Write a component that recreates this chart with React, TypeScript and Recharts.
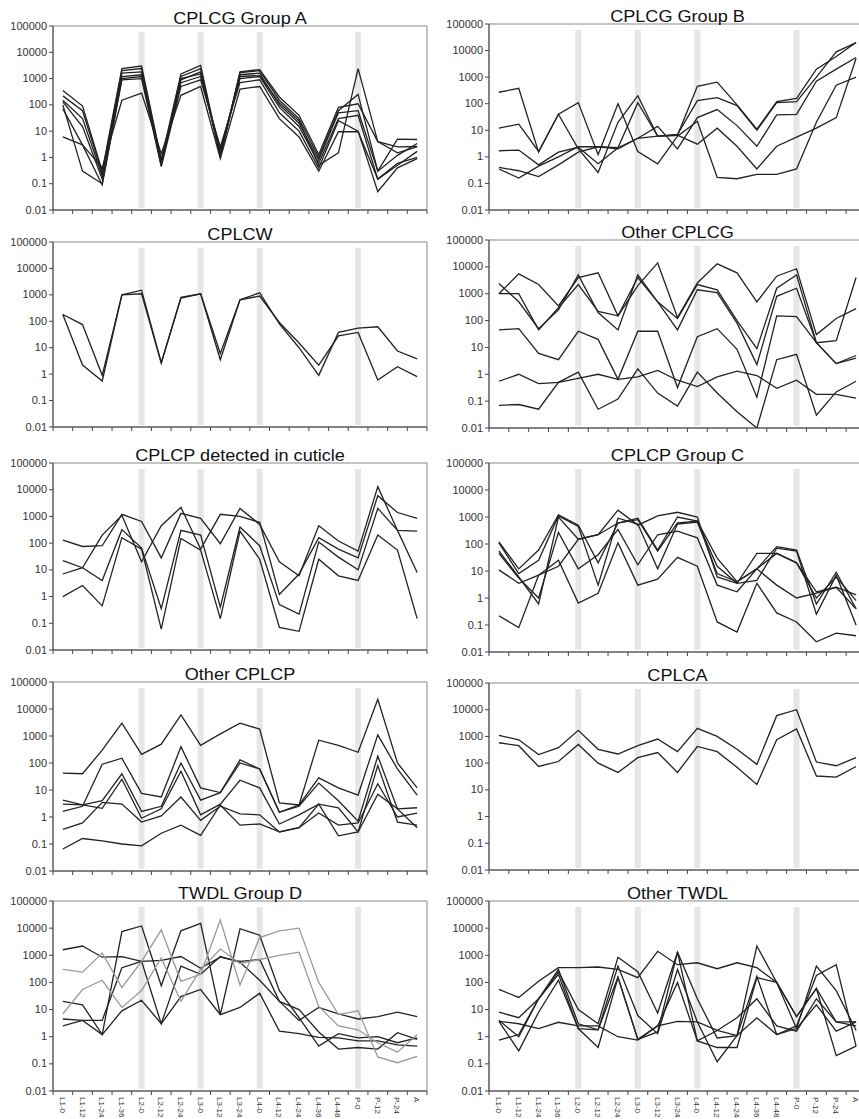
import React from 'react';
import { LineChart, Line, XAxis, YAxis, ReferenceLine, ReferenceArea } from 'recharts';

const CATEGORIES = ['L1-0', 'L1-12', 'L1-24', 'L1-36', 'L2-0', 'L2-12', 'L2-24', 'L3-0', 'L3-12', 'L3-24', 'L4-0', 'L4-12', 'L4-24', 'L4-36', 'L4-48', 'P-0', 'P-12', 'P-24', 'A'];
const STAGE_STARTS = ['L2-0', 'L3-0', 'L4-0', 'P-0'];
const Y_TICKS = [0.01, 0.1, 1, 10, 100, 1000, 10000, 100000];

const CPLCG_A = [
  [350, 90, 0.3, 2400, 3000, 0.8, 1500, 3200, 1.2, 1800, 2200, 200, 40, 1.3, 80, 110, 4, 2.5, 2.6],
  [220, 60, 0.25, 2000, 2400, 0.7, 1200, 2400, 1.0, 1700, 2000, 150, 30, 1.0, 60, 250, 0.3, 5, 4.8],
  [150, 30, 0.2, 1600, 1800, 0.6, 900, 1800, 1.5, 1400, 1600, 100, 20, 0.8, 50, 60, 0.3, 1.2, 3.4],
  [130, 15, 0.15, 1200, 1400, 0.5, 700, 1200, 2.0, 1000, 1200, 80, 15, 0.6, 30, 40, 0.15, 0.5, 1.7],
  [70, 3, 0.09, 900, 1000, 0.45, 500, 900, 2.5, 700, 900, 50, 10, 0.4, 25, 10, 0.05, 0.4, 0.9],
  [6, 3, 0.4, 150, 280, 1.4, 230, 500, 0.9, 400, 500, 30, 6, 0.3, 9.5, 9.5, 0.15, 0.6, 1],
  [100, 0.3, 0.1, 1000, 1200, 0.6, 1000, 1500, 1.2, 1200, 1300, 120, 25, 0.5, 1.5, 2400, 4, 1.5, 2.5],
];

const CPLCG_B = [
  [270, 380, 1.5, 40, 110, 1.2, 100, 1.6, 0.55, 6, 22, 0.17, 0.15, 0.22, 0.22, 0.35, 20, 500, 1000],
  [12, 17, 1.6, 40, 2.0, 0.26, 20, 200, 6, 7, 130, 170, 85, 10, 110, 120, 1000, 9000, 20000],
  [1.7, 1.8, 0.5, 1.5, 2.3, 0.55, 2.2, 110, 6, 6.5, 450, 650, 90, 11, 120, 160, 2000, 6000, 20000],
  [0.35, 0.16, 0.45, 1.0, 2.4, 2.4, 2.2, 5, 14, 2, 30, 60, 15, 2.5, 38, 40, 700, 2000, 5500],
  [0.4, 0.3, 0.18, 0.5, 1.5, 2.4, 2.0, 5, 6, 6.5, 3, 12, 2.5, 0.35, 2.5, 5.5, 12, 30, 5000],
];

const CPLCW = [
  [180, 75, 0.9, 1000, 1100, 2.6, 750, 1100, 3.5, 650, 1200, 80, 10, 0.9, 38, 55, 62, 7.5, 3.8],
  [180, 2.2, 0.55, 1000, 1500, 2.7, 800, 1100, 6, 650, 900, 90, 15, 2.2, 28, 38, 0.6, 1.9, 0.8],
];

const OTHER_CPLCG = [
  [1000, 5500, 2200, 350, 4000, 6000, 150, 2000, 14000, 130, 2500, 13000, 6000, 500, 4500, 8500, 30, 120, 280],
  [2400, 500, 50, 250, 5000, 200, 45, 5000, 500, 120, 2200, 1400, 100, 9, 1600, 5000, 15, 18, 4000],
  [1000, 1000, 45, 300, 2200, 220, 150, 4000, 500, 45, 1400, 1100, 80, 2.3, 800, 1600, 15, 2.5, 5],
  [45, 50, 6, 3.5, 40, 20, 0.65, 40, 40, 0.32, 25, 50, 8.5, 0.14, 150, 140, 15, 2.5, 4],
  [0.55, 1.0, 0.45, 0.5, 0.7, 1.0, 0.65, 0.8, 1.4, 0.6, 0.35, 0.8, 1.3, 0.9, 0.3, 0.6, 0.18, 0.18, 0.13],
  [0.07, 0.075, 0.05, 0.5, 1.2, 0.05, 0.12, 1.6, 0.2, 0.065, 1.2, 0.2, 0.04, 0.01, 3.5, 5.5, 0.03, 0.22, 0.55],
];

const CPLCP_CUTICLE = [
  [130, 75, 80, 1200, 650, 28, 1300, 850, 95, 2000, 500, 20, 6, 450, 120, 50, 13000, 300, 280],
  [7, 12, 200, 1100, 20, 450, 2200, 60, 1200, 1000, 600, 1.2, 7, 160, 60, 28, 6000, 1400, 850],
  [22, 12, 4, 320, 65, 0.35, 300, 200, 0.4, 400, 80, 0.5, 0.22, 110, 30, 10, 2000, 300, 8],
  [1, 2.6, 0.45, 160, 60, 0.06, 150, 55, 0.15, 280, 25, 0.07, 0.05, 25, 6, 4, 200, 55, 0.15],
];

const CPLCP_C = [
  [120, 12, 60, 1200, 500, 20, 600, 800, 55, 600, 700, 30, 4, 12, 80, 60, 0.6, 9, 0.4],
  [110, 8, 25, 1100, 450, 3, 900, 550, 12, 550, 650, 15, 3.5, 4.5, 70, 55, 0.25, 7, 0.1],
  [55, 6, 0.6, 1000, 150, 220, 1800, 500, 1100, 1500, 1000, 6, 3.5, 45, 45, 20, 1.7, 2.5, 1.3],
  [45, 5.5, 1.0, 270, 12, 40, 350, 17, 220, 300, 170, 3, 1.7, 12, 3, 1, 1.5, 2.5, 0.4],
  [11, 3.5, 7, 25, 0.65, 1.5, 110, 3, 5, 32, 15, 0.13, 0.055, 3.5, 0.28, 0.13, 0.024, 0.05, 0.04],
  [0.22, 0.08, 7, 15, 150, 220, 600, 900, 60, 1000, 700, 8, 4, 12, 45, 20, 1.0, 6, 0.8],
];

const OTHER_CPLCP = [
  [42, 40, 300, 3000, 210, 500, 6000, 450, 1200, 3000, 1800, 3.3, 2.8, 700, 450, 250, 23000, 100, 12],
  [1.6, 2.5, 90, 150, 7.5, 5.5, 400, 12, 8, 130, 60, 1.5, 2.8, 28, 12, 6.5, 1100, 60, 6.5],
  [4.2, 2.8, 4, 40, 1.6, 2.5, 100, 4.2, 8, 100, 60, 1.5, 2.5, 18, 4, 0.7, 180, 2, 0.4],
  [3, 2.8, 2.1, 25, 0.9, 2, 50, 1.2, 3, 23, 12, 0.55, 1.2, 3, 2.2, 0.28, 80, 0.65, 0.5],
  [0.35, 0.6, 3.5, 3, 0.65, 1.1, 5.5, 0.75, 2.5, 1.3, 1.2, 0.28, 0.4, 1.4, 0.5, 0.6, 17, 1, 1.4],
  [0.065, 0.16, 0.13, 0.1, 0.085, 0.25, 0.5, 0.21, 2.8, 0.5, 0.55, 0.28, 0.4, 3, 0.2, 0.28, 7, 2, 2.2],
];

const CPLCA = [
  [1100, 750, 210, 380, 1700, 330, 220, 450, 800, 270, 2000, 1000, 330, 90, 6000, 10000, 110, 80, 160],
  [580, 450, 75, 115, 500, 100, 45, 160, 250, 45, 420, 270, 70, 16, 750, 1900, 33, 30, 75],
];

const TWDL_D = [
  [1600, 2200, 850, 900, 600, 650, 900, 330, 850, 600, 700, 20, 10, 1.5, 0.35, 0.4, 0.35, 1.4, 0.8],
  [20, 15, 1.2, 7500, 12000, 75, 8000, 15000, 6.5, 9500, 5500, 50, 5, 0.45, 1.3, 0.9, 1.0, 0.6, 0.9],
  [4.5, 4, 4, 350, 600, 3, 400, 200, 900, 550, 120, 20, 4, 12, 7, 4.5, 5.5, 8, 5.5],
  [2.5, 4, 1.2, 9, 22, 3, 30, 55, 6.5, 12, 40, 1.6, 1.3, 0.95, 0.9, 0.7, 0.7, 0.5, 0.45],
  [300, 240, 1200, 65, 600, 8500, 110, 200, 20000, 80, 4500, 8000, 10000, 100, 6.5, 9, 0.18, 0.11, 0.19],
  [7, 55, 120, 12, 50, 800, 20, 300, 1700, 500, 700, 1000, 1300, 13, 2.5, 1.8, 0.6, 0.27, 1.2],
];
const TWDL_D_COLORS = ['#222', '#222', '#222', '#222', '#9a9a9a', '#9a9a9a'];

const OTHER_TWDL = [
  [55, 28, 110, 350, 350, 370, 300, 150, 1400, 450, 530, 320, 530, 350, 100, 5.5, 60, 3.5, 2.5],
  [8, 5, 25, 250, 10, 3, 850, 250, 7.5, 1300, 25, 0.9, 1.1, 2200, 100, 2, 400, 50, 1.7],
  [4, 1, 25, 300, 3, 1.8, 400, 6, 1.3, 300, 3.5, 0.12, 1.1, 170, 1.2, 2.5, 180, 450, 0.45],
  [3.7, 0.3, 8, 120, 2, 0.4, 150, 0.8, 2.5, 100, 0.7, 1.7, 5, 25, 2.5, 1.6, 25, 3.5, 3.5],
  [3.7, 3, 2, 3.4, 2.5, 2.5, 1, 0.75, 2.5, 3.7, 3.5, 1.7, 1.1, 5, 1.2, 2, 15, 1.6, 3.5],
  [0.75, 1.2, 25, 200, 2, 1.8, 160, 0.8, 1.5, 1300, 0.7, 0.4, 0.4, 150, 100, 5.5, 60, 0.2, 0.45],
];

const FONT = '"Liberation Sans", Arial, sans-serif';
const MT = 10;

type PanelProps = {
  title: string;
  series: number[][];
  colors?: string[];
  left: number;
  top: number;
  plotH: number;
  width: number;
  yWidth: number;
  mr: number;
  bottom?: boolean;
};

function Panel({ title, series, colors, left, top, plotH, width, yWidth, mr, bottom }: PanelProps) {
  const data = CATEGORIES.map((c, i) => {
    const row: Record<string, number | string> = { x: i + 1, cat: c };
    series.forEach((s, j) => {
      row['s' + j] = s[i];
    });
    return row;
  });
  const plotW = width - yWidth - mr;
  const step = plotW / CATEGORIES.length;
  const axisY = MT + plotH;
  const xh = bottom ? 40 : 8;
  const h = MT + plotH + xh;

  const renderXTick = (props: any) => {
    const { x, payload } = props;
    const i = payload.value - 1;
    return (
      <g>
        <line x1={x - step / 2} x2={x - step / 2} y1={axisY} y2={axisY + 4} stroke="#444" />
        {i === CATEGORIES.length - 1 && (
          <line x1={x + step / 2} x2={x + step / 2} y1={axisY} y2={axisY + 4} stroke="#444" />
        )}
        {bottom && (
          <text
            transform={`translate(${x},${axisY + 6}) rotate(90)`}
            dy={3}
            fontSize={8}
            fill="#333"
            fontFamily={FONT}
          >
            {CATEGORIES[i]}
          </text>
        )}
      </g>
    );
  };

  const renderYTick = (props: any) => {
    const { x, y, payload } = props;
    return (
      <g transform={`translate(${x},${y})`}>
        <text x={0} y={0} dy={3.5} textAnchor="end" fontSize={10} fill="#333" fontFamily={FONT} transform="scale(1.1,1)">
          {String(payload.value)}
        </text>
      </g>
    );
  };

  return (
    <div style={{ position: 'absolute', left, top: top - MT, width, height: h }}>
      <div
        style={{
          position: 'absolute',
          left: yWidth,
          width: plotW,
          top: MT - 15,
          textAlign: 'center',
          fontFamily: FONT,
          fontSize: 16,
          lineHeight: '16px',
          whiteSpace: 'nowrap',
          color: '#111',
          transform: 'scaleX(1.13)',
          zIndex: 1,
        }}
      >
        {title}
      </div>
      <LineChart width={width} height={h} data={data} margin={{ top: MT, right: mr, left: 0, bottom: 0 }}>
        <XAxis
          dataKey="x"
          type="number"
          domain={[0.5, CATEGORIES.length + 0.5]}
          ticks={CATEGORIES.map((_, i) => i + 1)}
          interval={0}
          tick={renderXTick}
          tickLine={false}
          axisLine={{ stroke: '#444' }}
          height={xh}
          allowDataOverflow
        />
        <YAxis
          type="number"
          scale="log"
          domain={[0.01, 100000]}
          ticks={Y_TICKS}
          interval={0}
          width={yWidth}
          tick={renderYTick}
          tickSize={4}
          tickMargin={2}
          tickLine={{ stroke: '#444' }}
          axisLine={{ stroke: '#444' }}
          allowDataOverflow
        />
        <ReferenceArea x1={0.5} x2={CATEGORIES.length + 0.5} y1={0.01} y2={100000} fill="none" stroke="#8a8a8a" strokeWidth={1} />
        {STAGE_STARTS.map((s) => (
          <ReferenceLine
            key={s}
            segment={[
              { x: CATEGORIES.indexOf(s) + 1, y: 60000 },
              { x: CATEGORIES.indexOf(s) + 1, y: 0.012 },
            ]}
            stroke="#e6e6e6"
            strokeWidth={6}
          />
        ))}
        {series.map((_, j) => (
          <Line
            key={j}
            type="linear"
            dataKey={'s' + j}
            stroke={colors ? colors[j] : '#222'}
            strokeWidth={1.3}
            dot={false}
            isAnimationActive={false}
          />
        ))}
      </LineChart>
    </div>
  );
}

const L = { left: 0, width: 430, yWidth: 53, mr: 3 };
const R = { left: 430, width: 436, yWidth: 59, mr: 0 };

export default function App() {
  return (
    <div style={{ position: 'absolute', left: 0, top: 0, width: 859, height: 1119, overflow: 'hidden', background: '#fff' }}>
      <Panel title="CPLCG Group A" series={CPLCG_A} top={26} plotH={184} {...L} />
      <Panel title="CPLCG Group B" series={CPLCG_B} top={24} plotH={186} {...R} />
      <Panel title="CPLCW" series={CPLCW} top={242} plotH={185} {...L} />
      <Panel title="Other CPLCG" series={OTHER_CPLCG} top={240} plotH={188} {...R} />
      <Panel title="CPLCP detected in cuticle" series={CPLCP_CUTICLE} top={463} plotH={187} {...L} />
      <Panel title="CPLCP Group C" series={CPLCP_C} top={463} plotH={189} {...R} />
      <Panel title="Other CPLCP" series={OTHER_CPLCP} top={682} plotH={189} {...L} />
      <Panel title="CPLCA" series={CPLCA} top={683} plotH={187} {...R} />
      <Panel title="TWDL Group D" series={TWDL_D} colors={TWDL_D_COLORS} top={901} plotH={190} bottom {...L} />
      <Panel title="Other TWDL" series={OTHER_TWDL} top={901} plotH={190} bottom {...R} />
    </div>
  );
}
